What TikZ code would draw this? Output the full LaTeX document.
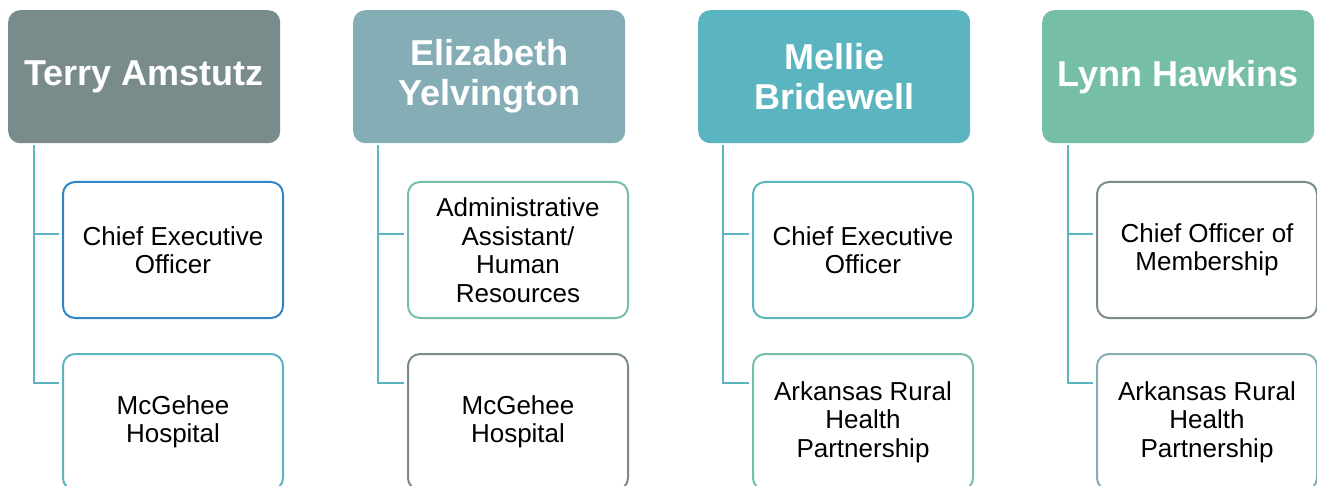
\documentclass[tikz,border=0pt]{standalone}
\usepackage{fontspec}
\setmainfont{Liberation Sans}
\usepackage{tikz}

\definecolor{slate}{HTML}{7A8B8B}
\definecolor{steel}{HTML}{85ADB5}
\definecolor{teal}{HTML}{5AB5C0}
\definecolor{mint}{HTML}{76BFA6}
\definecolor{ocean}{HTML}{2E86C8}

\tikzset{
  head/.style={fill=#1,draw=none,rounded corners=12pt,minimum width=272pt,minimum height=133pt,
    anchor=north west,align=center,text=white,font=\bfseries\fontsize{36}{40}\selectfont,inner sep=0pt},
  role/.style={draw=#1,line width=2pt,fill=white,rounded corners=12pt,minimum width=220pt,minimum height=136pt,
    anchor=north west,align=center,text=black,font=\fontsize{26}{28.5}\selectfont,inner sep=0pt},
  link/.style={draw=teal,line width=2pt,shorten >=3pt}
}

\begin{document}
\begin{tikzpicture}[x=1pt,y=-1pt]
  \useasboundingbox (0,0) rectangle (1317,486);
  \clip (0,0) rectangle (1317,486);
  % heads
  \node[head=slate] (terry) at (8,10) {\raisebox{-2pt}{Terry Amstutz}};
  \node[head=steel] (elizabeth) at (353,10) {Elizabeth\\Yelvington};
  \node[head=teal] (mellie) at (698,10) {Mellie\\Bridewell};
  \node[head=mint] (lynn) at (1042,10) {\raisebox{-2pt}{Lynn Hawkins}};
  % roles
  \node[role=ocean] (terry1) at (62,181) {Chief Executive\\Officer};
  \node[role=teal] (terry2) at (62,353) {McGehee\\Hospital};
  \node[role=mint] (elizabeth1) at (407,181) {Administrative\\Assistant/\\Human\\Resources};
  \node[role=slate] (elizabeth2) at (407,353) {McGehee\\Hospital};
  \node[role=teal] (mellie1) at (752,181) {Chief Executive\\Officer};
  \node[role=mint] (mellie2) at (752,353) {Arkansas Rural\\Health\\Partnership};
  \node[role=slate] (lynn1) at (1096,181) {Chief Officer of\\Membership};
  \node[role=steel] (lynn2) at (1096,353) {Arkansas Rural\\Health\\Partnership};
  % links
  \draw[link] ([xshift=26pt,yshift=-2pt]terry.south west) |- ([yshift=16pt]terry1.west);
  \draw[link] ([xshift=26pt,yshift=-2pt]terry.south west) |- ([yshift=39pt]terry2.west);
  \draw[link] ([xshift=25pt,yshift=-2pt]elizabeth.south west) |- ([yshift=16pt]elizabeth1.west);
  \draw[link] ([xshift=25pt,yshift=-2pt]elizabeth.south west) |- ([yshift=39pt]elizabeth2.west);
  \draw[link] ([xshift=25pt,yshift=-2pt]mellie.south west) |- ([yshift=16pt]mellie1.west);
  \draw[link] ([xshift=25pt,yshift=-2pt]mellie.south west) |- ([yshift=39pt]mellie2.west);
  \draw[link] ([xshift=26pt,yshift=-2pt]lynn.south west) |- ([yshift=16pt]lynn1.west);
  \draw[link] ([xshift=26pt,yshift=-2pt]lynn.south west) |- ([yshift=39pt]lynn2.west);
\end{tikzpicture}
\end{document}
